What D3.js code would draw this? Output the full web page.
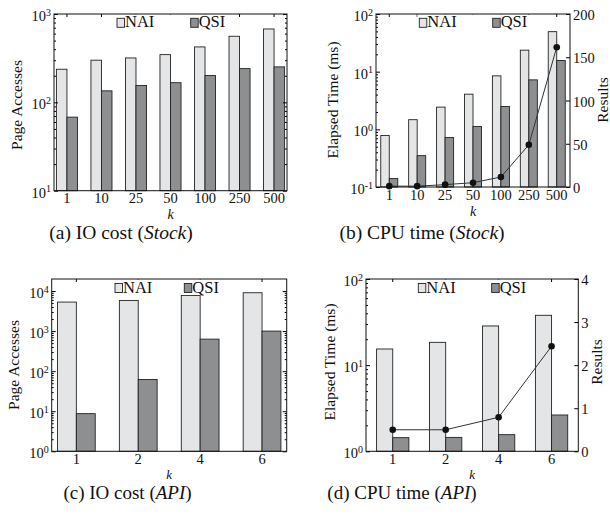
<!DOCTYPE html>
<html><head><meta charset="utf-8">
<script src="https://cdn.jsdelivr.net/npm/d3@7"></script>
<style>body{margin:0;background:#fff}svg{display:block}text{font-family:"Liberation Serif","Times New Roman",serif;fill:#111}</style>
</head><body><svg id="c" width="610" height="523"></svg>
<script>
// ---- data ----
const catsStock = ["1","10","25","50","100","250","500"];
const naiStockIO = [237,300,318,347,424,560,677];
const qsiStockIO = [68,135,155,167,201,241,252];
const naiStockCPU = [0.78,1.47,2.43,4.07,8.46,23.6,49.4];
const qsiStockCPU = [0.14,0.35,0.72,1.12,2.49,7.21,15.6];
const resultsStock = [1,1,2.7,5,11.5,48.8,161.6];
const catsAPI = ["1","2","4","6"];
const naiApiIO = [5300,5820,7770,9060];
const qsiApiIO = [8.7,62,630,1000];
const naiApiCPU = [15.4,18.4,28.5,37.9];
const qsiApiCPU = [1.44,1.45,1.56,2.64];
const resultsApi = [0.5,0.5,0.79,2.44];
const seriesNames = ["NAI","QSI"];
const stockRightTicks = [0,50,100,150,200];
const apiRightTicks = [0,1,2,3,4];
const captions = [
  {pre:"(a) IO cost (", it:"Stock", post:")"},
  {pre:"(b) CPU time (", it:"Stock", post:")"},
  {pre:"(c) IO cost (", it:"API", post:")"},
  {pre:"(d) CPU time (", it:"API", post:")"}
];

const COL_NAI = "#e4e5e6", COL_QSI = "#8e8f91";
const svg = d3.select("#c");

function drawPanel(p){
  const g = svg.append("g");
  const x = d3.scaleBand().domain(p.cats).range([p.x0,p.x1]).paddingInner(0.39).paddingOuter(p.po);
  const y = d3.scaleLog().domain(p.yDomain).range([p.y1,p.y0]);
  const bw = x.bandwidth()/2;
  const rows = p.cats.map((c,i)=>({c, v:[p.nai[i], p.qsi[i]]}));
  rows.forEach(r=>{
    r.v.forEach((v,j)=>{
      g.append("rect").attr("x", x(r.c)+j*bw).attr("y", y(v))
       .attr("width", bw).attr("height", p.y1 - y(v))
       .attr("fill", j===0?COL_NAI:COL_QSI).attr("stroke","#222").attr("stroke-width",0.9);
    });
  });
  const lo = Math.round(Math.log10(p.yDomain[0])), hi = Math.floor(Math.log10(p.yDomain[1])+1e-9);
  const majors = d3.range(lo, hi+1).map(e=>Math.pow(10,e));
  const minors = [];
  for(let e=lo;e<=hi;e++) for(let m=2;m<=9;m++){ const v=m*Math.pow(10,e); if(v<=p.yDomain[1]) minors.push(v); }
  const left = g.append("g").attr("transform",`translate(${p.x0},0)`)
     .call(d3.axisLeft(y).tickValues(majors).tickSize(-4).tickPadding(3).tickFormat(""));
  left.select(".domain").remove();
  left.selectAll(".tick text").each(function(d){
    const t = d3.select(this);
    t.attr("dy", "0.45em").attr("font-size", 14.5).attr("fill","#111");
    t.append("tspan").text("10");
    t.append("tspan").attr("dy", -5.5).attr("font-size", 10).text(String(Math.round(Math.log10(d))));
  });
  g.append("g").attr("transform",`translate(${p.x0},0)`)
   .call(d3.axisLeft(y).tickValues(minors).tickSize(-2).tickFormat(""))
   .select(".domain").remove();
  if(!p.results){
    g.append("g").attr("transform",`translate(${p.x1},0)`)
     .call(d3.axisRight(y).tickValues(majors).tickSize(-4).tickFormat("")).select(".domain").remove();
    g.append("g").attr("transform",`translate(${p.x1},0)`)
     .call(d3.axisRight(y).tickValues(minors).tickSize(-2).tickFormat("")).select(".domain").remove();
  }
  const bot = g.append("g").attr("transform",`translate(0,${p.y1})`)
    .call(d3.axisBottom(x).tickSize(0).tickPadding(p.tp));
  bot.select(".domain").remove();
  bot.selectAll(".tick text").attr("font-size",14.5).attr("fill","#111");
  g.append("g").attr("transform",`translate(0,${p.y0})`)
   .call(d3.axisTop(x).tickSize(-3).tickFormat("")).select(".domain").remove();
  g.append("text").attr("x",(p.x0+p.x1)/2).attr("y",p.kY).attr("text-anchor","middle")
   .attr("font-size",p.kF).attr("font-style","italic").text("k");
  g.append("text").attr("transform",`translate(${p.ylx},${p.yly}) rotate(-90)`).attr("text-anchor","middle")
   .attr("dy","0.35em").attr("font-size",15.5).text(p.ylabel);
  if(p.results){
    const r = d3.scaleLinear().domain(p.rDomain).range([p.y1,p.y0]);
    const ra = g.append("g").attr("transform",`translate(${p.x1},0)`)
      .call(d3.axisRight(r).tickValues(p.rTicks).tickSize(-4).tickPadding(3).tickFormat(d3.format("d")));
    ra.select(".domain").remove();
    ra.selectAll(".tick text").attr("font-size",14.5).attr("fill","#111").attr("dy","0.38em");
    const cx = c => x(c) + x.bandwidth()/2;
    const pts = p.cats.map((c,i)=>[cx(c), r(p.results[i])]);
    g.append("path").attr("d", d3.line()(pts)).attr("fill","none").attr("stroke","#333").attr("stroke-width",1);
    g.selectAll(null).data(pts).enter().append("circle").attr("cx",d=>d[0]).attr("cy",d=>d[1])
     .attr("r",3.3).attr("fill","#111");
    g.append("text").attr("transform",`translate(${p.rlx},${p.yly}) rotate(-90)`).attr("text-anchor","middle")
     .attr("dy","0.35em").attr("font-size",15.5).text("Results");
  }
  g.append("rect").attr("x",p.legX[0]-2).attr("y",p.y0+0.5).attr("width",p.legX[1]+40-p.legX[0])
   .attr("height",p.legY-p.y0+2).attr("fill","#fff");
  seriesNames.forEach((s,j)=>{
    const lx = p.legX[j];
    g.append("rect").attr("x",lx).attr("y",p.legY-9).attr("width",7.5).attr("height",9)
     .attr("fill", j===0?COL_NAI:COL_QSI).attr("stroke","#222").attr("stroke-width",0.9);
    g.append("text").attr("x",lx+8).attr("y",p.legY).attr("font-size",16.5).text(s);
  });
  g.append("rect").attr("x",p.x0).attr("y",p.y0).attr("width",p.x1-p.x0).attr("height",p.y1-p.y0)
   .attr("fill","none").attr("stroke","#111").attr("stroke-width",1);
}

drawPanel({cats:catsStock, nai:naiStockIO, qsi:qsiStockIO, x0:54, x1:287, y0:14, y1:190.7, po:0.07, tp:2.5,
  yDomain:[10,1000], ylabel:"Page Accesses", ylx:17, yly:105, kY:219, kF:14, legX:[117,190.7], legY:27.3});
drawPanel({cats:catsStock, nai:naiStockCPU, qsi:qsiStockCPU, x0:376, x1:570, y0:14, y1:187, po:0.17, tp:2.5,
  yDomain:[0.1,100], ylabel:"Elapsed Time (ms)", ylx:333, yly:100, kY:216, kF:14, legX:[419.3,492.7], legY:27.3,
  results:resultsStock, rDomain:[0,200], rTicks:stockRightTicks, rlx:603});
drawPanel({cats:catsAPI, nai:naiApiIO, qsi:qsiApiIO, x0:51.7, x1:286.7, y0:279, y1:451.3, po:0.093, tp:2,
  yDomain:[1,Math.pow(10,4.3)], ylabel:"Page Accesses", ylx:14, yly:365, kY:479, kF:13, legX:[115,184.3], legY:292.5});
drawPanel({cats:catsAPI, nai:naiApiCPU, qsi:qsiApiCPU, x0:366, x1:578.3, y0:279, y1:451.3, po:0.2, tp:2,
  yDomain:[1,100], ylabel:"Elapsed Time (ms)", ylx:330, yly:362, kY:479, kF:13, legX:[418.3,491.7], legY:292.5,
  results:resultsApi, rDomain:[0,4], rTicks:apiRightTicks, rlx:597});

const capPos = [[121,239,19.5],[422,239,19.5],[127.5,499,19],[402,499,19]];
captions.forEach((c,i)=>{
  const t = svg.append("text").attr("x",capPos[i][0]).attr("y",capPos[i][1]).attr("text-anchor","middle").attr("font-size",capPos[i][2]);
  t.append("tspan").text(c.pre);
  t.append("tspan").attr("font-style","italic").text(c.it);
  t.append("tspan").text(c.post);
});
</script></body></html>
